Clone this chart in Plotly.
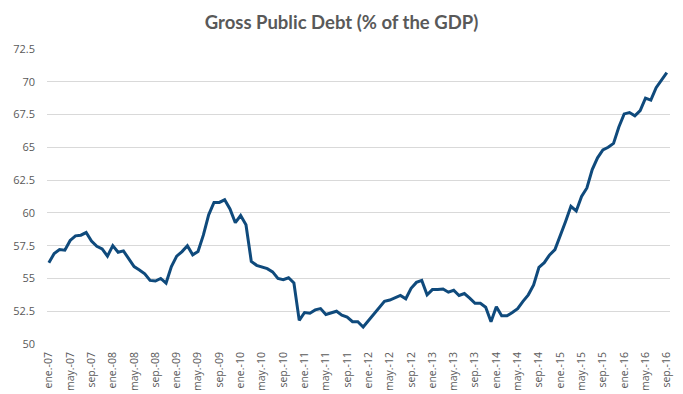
import plotly.graph_objects as go

months = ["ene.", "feb.", "mar.", "abr.", "may.", "jun.", "jul.", "ago.", "sep.", "oct.", "nov.", "dic."]
years = ["07", "08", "09", "10", "11", "12", "13", "14", "15", "16"]

debt = [56.2, 56.9, 57.2, 57.15, 57.9, 58.25, 58.3, 58.5, 57.85, 57.45, 57.25, 56.7,
        57.5, 57.0, 57.1, 56.5, 55.9, 55.65, 55.35, 54.85, 54.8, 55.0, 54.65, 55.9,
        56.7, 57.05, 57.5, 56.8, 57.05, 58.3, 59.85, 60.8, 60.8, 61.0, 60.3, 59.25,
        59.8, 59.1, 56.3, 56.0, 55.9, 55.75, 55.5, 55.0, 54.9, 55.05, 54.65, 51.8,
        52.4, 52.35, 52.6, 52.7, 52.25, 52.35, 52.5, 52.2, 52.05, 51.7, 51.7, 51.3,
        51.8, 52.3, 52.8, 53.25, 53.35, 53.55, 53.7, 53.45, 54.25, 54.7, 54.85, 53.75,
        54.15, 54.15, 54.2, 53.95, 54.1, 53.7, 53.85, 53.5, 53.1, 53.1, 52.8, 51.7,
        52.85, 52.15, 52.15, 52.4, 52.7, 53.25, 53.75, 54.5, 55.85, 56.2, 56.8, 57.2,
        58.2, 59.35, 60.5, 60.15, 61.25, 61.9, 63.3, 64.2, 64.8, 65.0, 65.3, 66.55,
        67.55, 67.65, 67.4, 67.8, 68.75, 68.6, 69.55, 70.15, 70.7]

categories = [m + "-" + y for y in years for m in months][:len(debt)]
x_idx = list(range(len(debt)))
tick_idx = x_idx[::4]
tick_text = [categories[i] for i in tick_idx]

fig = go.Figure(go.Scatter(
    x=x_idx, y=debt, mode="lines",
    line=dict(color="#0f4a7c", width=3),
    hoverinfo="skip",
))

fig.update_layout(
    width=683, height=394,
    margin=dict(l=47, r=13, t=49, b=50, autoexpand=False),
    paper_bgcolor="white", plot_bgcolor="white",
    showlegend=False,
    title=dict(text="<b>Gross Public Debt (% of the GDP)</b>", x=0.5, xanchor="center",
               yref="container", y=0.944, yanchor="middle", automargin=False,
               font=dict(family="Lato", size=18.5, color="#595959")),
    font=dict(family="Open Sans", color="#595959"),
)
fig.update_xaxes(
    range=[-0.35, 116.6],
    tickmode="array", tickvals=tick_idx, ticktext=tick_text,
    tickangle=-90, tickfont=dict(family="Open Sans", size=10.5, color="#595959"),
    showgrid=False, zeroline=False, showline=False, ticks="",
    ticklabelstandoff=5, automargin=False,
)
fig.update_yaxes(
    range=[50, 72.5], tickmode="linear", tick0=50, dtick=2.5,
    showgrid=True, gridcolor="#d9d9d9", gridwidth=1,
    zeroline=False, showline=False, ticks="",
    tickfont=dict(family="Open Sans", size=11, color="#595959"),
    ticklabelstandoff=11, automargin=False,
)

fig.write_html("out.html", config={"displayModeBar": False},
               post_script="document.body.style.margin='0px';")
